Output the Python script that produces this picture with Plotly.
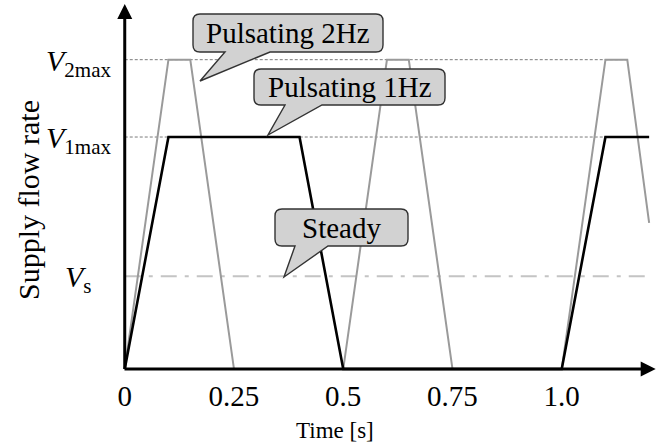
import plotly.graph_objects as go

# Canvas and plot-area geometry
W, H = 663, 444
M_L, M_R, M_T, M_B = 116, 3, 4, 68

# Flow levels, normalised to the 1 Hz peak
V1_MAX = 1.0
V2_MAX = 4 / 3
V_S = 0.4

# 1 Hz pulsating supply
t_1hz = [0, 0.1, 0.4, 0.5, 1.0, 1.1, 1.2]
v_1hz = [0, V1_MAX, V1_MAX, 0, 0, V1_MAX, V1_MAX]

# 2 Hz pulsating supply
t_2hz = [0, 0.1, 0.15, 0.25, 0.5, 0.6, 0.65, 0.75, 1.0, 1.1, 1.15, 1.2]
v_2hz = [0, V2_MAX, V2_MAX, 0, 0, V2_MAX, V2_MAX, 0, 0, V2_MAX, V2_MAX, 0.63]

# Steady supply
t_steady = [0, 1.2]
v_steady = [V_S, V_S]

# Peak guide lines (end where the last pulse reaches its plateau)
t_v2_guide = [0, 1.15]
t_v1_guide = [0, 1.1]

x_ticks = [0, 0.25, 0.5, 0.75, 1.0]
x_tick_text = ["0", "0.25", "0.5", "0.75", "1.0"]

X_RANGE = [-0.02, 1.22485]
Y_RANGE = [-0.03, 1.5733]

FONT = "'Liberation Serif', 'Times New Roman', Times, serif"
PW = W - M_L - M_R
PH = H - M_T - M_B


def paper(px, py):
    """Canvas pixel -> paper coordinates."""
    return (px - M_L) / PW, (H - M_B - py) / PH


def callout_path(x0, y0, x1, y1, r, b0, b1, tip):
    """Rounded box with a pointer on its bottom edge, in canvas pixels."""
    cmds = [
        ("M", [(x0 + r, y0)]),
        ("L", [(x1 - r, y0)]),
        ("Q", [(x1, y0), (x1, y0 + r)]),
        ("L", [(x1, y1 - r)]),
        ("Q", [(x1, y1), (x1 - r, y1)]),
        ("L", [(b1, y1)]),
        ("L", [tip]),
        ("L", [(b0, y1)]),
        ("L", [(x0 + r, y1)]),
        ("Q", [(x0, y1), (x0, y1 - r)]),
        ("L", [(x0, y0 + r)]),
        ("Q", [(x0, y0), (x0 + r, y0)]),
    ]
    out = []
    for c, pts in cmds:
        out.append(c + " " + " ".join("%.5f,%.5f" % paper(*p) for p in pts))
    return " ".join(out) + " Z"


fig = go.Figure()

fig.add_trace(go.Scatter(x=t_v2_guide, y=[V2_MAX, V2_MAX], mode="lines",
                         line=dict(color="#7a7a7a", width=1, dash="3px,2px")))
fig.add_trace(go.Scatter(x=t_v1_guide, y=[V1_MAX, V1_MAX], mode="lines",
                         line=dict(color="#7a7a7a", width=1, dash="3px,2px")))
fig.add_trace(go.Scatter(x=t_steady, y=v_steady, mode="lines",
                         line=dict(color="#c4c4c4", width=2.2, dash="16px,8px,4px,8px")))
fig.add_trace(go.Scatter(x=t_2hz, y=v_2hz, mode="lines",
                         line=dict(color="#9a9a9a", width=2)))
fig.add_trace(go.Scatter(x=t_1hz, y=v_1hz, mode="lines",
                         line=dict(color="#000000", width=2.6)))

# Callout bubbles: (box x0, y0, x1, y1), pointer base, pointer tip, label
callouts = [
    ((193, 14, 383, 52), (225, 270), (200, 81), "Pulsating 2Hz"),
    ((254, 69, 445, 105), (285, 322), (268, 135), "Pulsating 1Hz"),
    ((275, 209, 408, 246), (295, 328), (284, 277), "Steady"),
]
shapes = []
annotations = []
for (x0, y0, x1, y1), (b0, b1), tip, label in callouts:
    shapes.append(dict(type="path", xref="paper", yref="paper", layer="above",
                       path=callout_path(x0, y0, x1, y1, 7, b0, b1, tip),
                       fillcolor="#d2d2d2", line=dict(color="#333333", width=1.4)))
    cx, cy = paper((x0 + x1) / 2, (y0 + y1) / 2)
    annotations.append(dict(xref="paper", yref="paper", x=cx, y=cy, text=label,
                            showarrow=False, xanchor="center", yanchor="middle",
                            font=dict(family=FONT, size=29, color="black")))

# Level labels on the vertical axis (left edge of the italic V)
level_labels = [
    (V2_MAX, "<i>V</i><sub>2max</sub>", 44),
    (V1_MAX, "<i>V</i><sub>1max</sub>", 44),
    (V_S, "<i>V</i><sub>s</sub>", 63),
]
for val, txt, left_px in level_labels:
    ax_x, _ = paper(left_px, 0)
    annotations.append(dict(xref="paper", yref="y", x=ax_x, y=val, text=txt,
                            showarrow=False, xanchor="left", yanchor="middle",
                            yshift=-3,
                            font=dict(family=FONT, size=30, color="black")))

# Axis titles
tx, ty = paper(335, 430)
annotations.append(dict(xref="paper", yref="paper", x=tx, y=ty, text="Time [s]",
                        showarrow=False, xanchor="center", yanchor="middle",
                        font=dict(family=FONT, size=23, color="black")))
yx, yy = paper(28, 200)
annotations.append(dict(xref="paper", yref="paper", x=yx, y=yy,
                        text="Supply flow rate", textangle=-90,
                        showarrow=False, xanchor="center", yanchor="middle",
                        font=dict(family=FONT, size=30, color="black")))

# Axis lines with arrowheads
annotations.append(dict(x=1.215, y=0, ax=-0.004, ay=0, xref="x", yref="y",
                        axref="x", ayref="y", text="", showarrow=True,
                        arrowhead=2, arrowsize=1, arrowwidth=3, arrowcolor="black"))
annotations.append(dict(x=0, y=1.573, ax=0, ay=-0.006, xref="x", yref="y",
                        axref="x", ayref="y", text="", showarrow=True,
                        arrowhead=2, arrowsize=1, arrowwidth=3, arrowcolor="black"))

fig.update_layout(
    width=W, height=H,
    margin=dict(l=M_L, r=M_R, t=M_T, b=M_B),
    paper_bgcolor="white", plot_bgcolor="white",
    showlegend=False,
    font=dict(family=FONT, color="black"),
    shapes=shapes,
    annotations=annotations,
    xaxis=dict(range=X_RANGE, showgrid=False, zeroline=False, showline=False,
               tickmode="array", tickvals=x_ticks, ticktext=x_tick_text,
               ticks="", tickfont=dict(family=FONT, size=29, color="black")),
    yaxis=dict(range=Y_RANGE, showgrid=False, zeroline=False, showline=False,
               showticklabels=False, ticks=""),
)

fig.write_html("out.html")
